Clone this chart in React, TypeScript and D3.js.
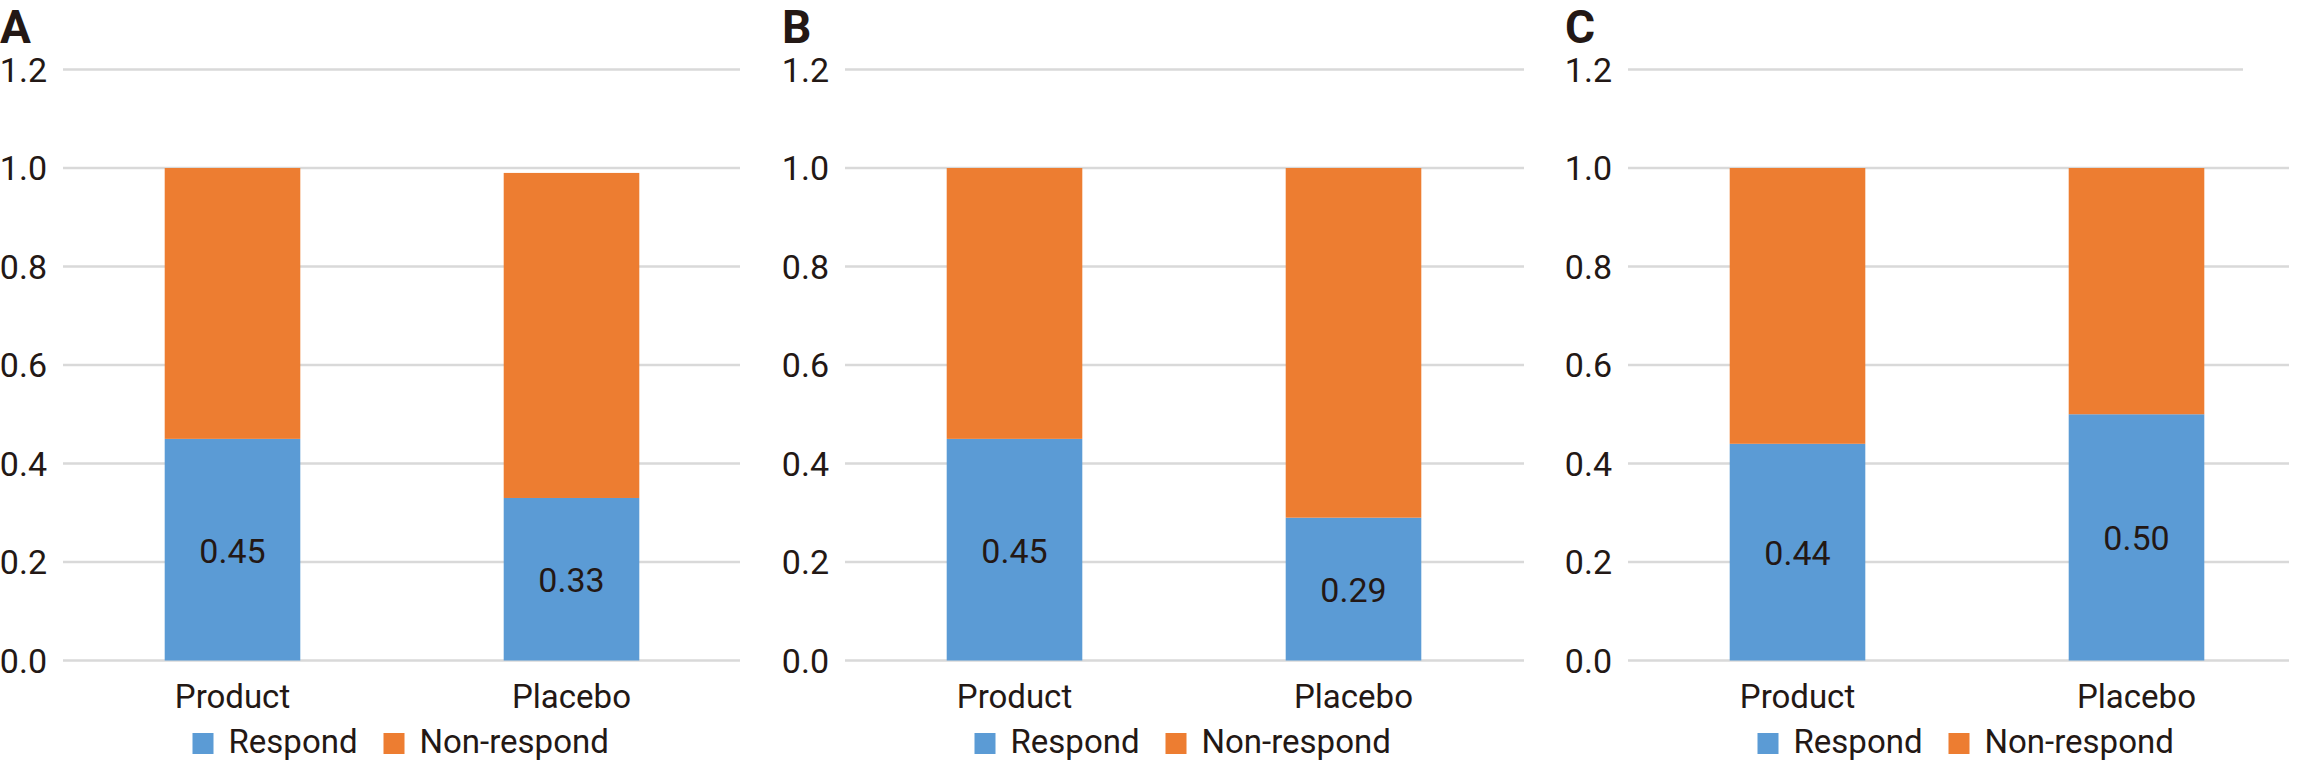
import React from "react";
import * as d3 from "d3";

const panels = ["A", "B", "C"];
const categories = ["Product", "Placebo"];
const respond = [
  [0.45, 0.33],
  [0.45, 0.29],
  [0.44, 0.5],
];
const nonRespond = [
  [0.55, 0.66],
  [0.55, 0.71],
  [0.56, 0.5],
];
const yTicks = [0, 0.2, 0.4, 0.6, 0.8, 1.0, 1.2];
const seriesNames = ["Respond", "Non-respond"];

const colors = ["#5B9BD5", "#ED7D31"];
const textColor = "#231815";
const font = "Roboto, 'Noto Sans', sans-serif";

// left edge of each panel's plot area, and where its gridlines stop
const panelX = [63, 845, 1628];
const panelW = 678;
const gridEnd = [740, 1524, 2289];

const y = d3.scaleLinear().domain([0, 1.2]).range([660.5, 69.5]);

const Panel = ({ idx }: { idx: number }) => {
  const x0 = panelX[idx];
  const x = d3
    .scaleBand()
    .domain(categories)
    .range([x0, x0 + panelW])
    .paddingInner(0.6)
    .paddingOuter(0.3);
  const center = x0 + panelW / 2;

  return (
    <g>
      <text
        x={x0 - 63}
        y={43}
        fontFamily={font}
        fontWeight="bold"
        fontSize={46}
        fill={textColor}
      >
        {panels[idx]}
      </text>

      {yTicks.map((t) => {
        // the top line in panel C is cut short in the original
        const end = idx === 2 && t === 1.2 ? 2243 : gridEnd[idx];
        return (
          <g key={t}>
            <line
              x1={x0}
              x2={end}
              y1={y(t)}
              y2={y(t)}
              stroke="#D9D9D9"
              strokeWidth={2.5}
            />
            <text
              x={x0 - 16}
              y={y(t)}
              textAnchor="end"
              dominantBaseline="central"
              fontFamily={font}
              fontSize={34}
              fill={textColor}
            >
              {t.toFixed(1)}
            </text>
          </g>
        );
      })}

      {categories.map((c, i) => {
        const r = respond[idx][i];
        const n = nonRespond[idx][i];
        const bx = x(c)!;
        const bw = x.bandwidth();
        return (
          <g key={c}>
            <rect
              x={bx}
              y={y(r)}
              width={bw}
              height={y(0) - y(r)}
              fill={colors[0]}
            />
            <rect
              x={bx}
              y={y(r + n)}
              width={bw}
              height={y(r) - y(r + n)}
              fill={colors[1]}
            />
            <text
              x={bx + bw / 2}
              y={(y(0) + y(r)) / 2 + 1}
              textAnchor="middle"
              dominantBaseline="central"
              fontFamily={font}
              fontSize={34}
              fill={textColor}
            >
              {r.toFixed(2)}
            </text>
            <text
              x={bx + bw / 2}
              y={708}
              textAnchor="middle"
              fontFamily={font}
              fontSize={33}
              fill={textColor}
            >
              {c}
            </text>
          </g>
        );
      })}

      {/* legend */}
      {seriesNames.map((s, i) => {
        const sx = center + (i === 0 ? -209.5 : -18.5);
        return (
          <g key={s}>
            <rect x={sx} y={733} width={21} height={21} fill={colors[i]} />
            <text
              x={sx + 36}
              y={753}
              fontFamily={font}
              fontSize={33}
              fill={textColor}
            >
              {s}
            </text>
          </g>
        );
      })}
    </g>
  );
};

export default function App() {
  return (
    <svg
      width={2309}
      height={768}
      style={{ position: "absolute", left: 0, top: 0, background: "#fff" }}
    >
      <rect width={2309} height={768} fill="#fff" />
      {panels.map((p, i) => (
        <Panel key={p} idx={i} />
      ))}
    </svg>
  );
}
